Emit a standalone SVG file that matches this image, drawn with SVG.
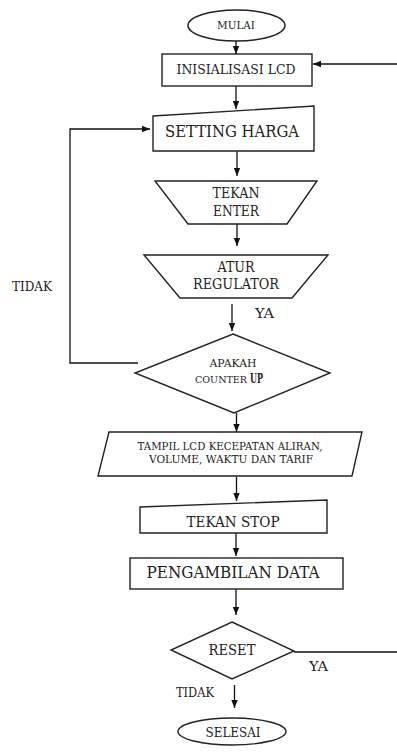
<svg xmlns="http://www.w3.org/2000/svg" width="397" height="754" viewBox="0 0 397 754">
<style>
.s{fill:#fff;stroke:#222;stroke-width:1.4}
.c{fill:none;stroke:#111;stroke-width:1.3}
.t{font-family:"DejaVu Serif","Liberation Serif",serif;fill:#222;text-anchor:middle}
.l{font-family:"DejaVu Serif","Liberation Serif",serif;fill:#222}
</style>
<defs>
<marker id="ah" markerUnits="userSpaceOnUse" markerWidth="8" markerHeight="8" viewBox="0 0 8 8" refX="8" refY="4" orient="auto">
<path d="M0,0.8 L8,4 L0,7.2 Z" fill="#111"/>
</marker>
</defs>
<rect width="397" height="754" fill="#fff"/>
<g id="connectors">
<line class="c" x1="236" y1="41" x2="236" y2="54" marker-end="url(#ah)"/>
<line class="c" x1="397" y1="64" x2="313" y2="64" marker-end="url(#ah)"/>
<line class="c" x1="236" y1="86" x2="236" y2="109" marker-end="url(#ah)"/>
<polyline class="c" points="138,363 70,363 70,129 150,129" marker-end="url(#ah)"/>
<line class="c" x1="237" y1="151" x2="237" y2="176" marker-end="url(#ah)"/>
<line class="c" x1="237" y1="224" x2="237" y2="246" marker-end="url(#ah)"/>
<line class="c" x1="232" y1="304" x2="232" y2="331" marker-end="url(#ah)"/>
<line class="c" x1="236.5" y1="413" x2="236.5" y2="432" marker-end="url(#ah)"/>
<line class="c" x1="236.5" y1="477" x2="236.5" y2="501" marker-end="url(#ah)"/>
<line class="c" x1="236" y1="533" x2="236" y2="556" marker-end="url(#ah)"/>
<line class="c" x1="236" y1="589" x2="236" y2="615" marker-end="url(#ah)"/>
<line class="c" x1="294" y1="652" x2="397" y2="652"/>
<line class="c" x1="234.5" y1="685" x2="234.5" y2="708" marker-end="url(#ah)"/>
<text class="l" x="255" y="318" font-size="13" textLength="19" lengthAdjust="spacingAndGlyphs">YA</text>
<text class="l" x="12" y="291" font-size="13" textLength="40" lengthAdjust="spacingAndGlyphs">TIDAK</text>
<text class="l" x="309" y="671" font-size="13" textLength="19" lengthAdjust="spacingAndGlyphs">YA</text>
<text class="l" x="176" y="697" font-size="13" textLength="38" lengthAdjust="spacingAndGlyphs">TIDAK</text>
</g>
<g id="mulai">
<ellipse class="s" cx="236.5" cy="25.5" rx="48.5" ry="15.5"/>
<text class="t" x="236" y="29" font-size="11" textLength="38" lengthAdjust="spacingAndGlyphs">MULAI</text>
</g>
<g id="inisialisasi">
<rect class="s" x="162" y="54" width="150" height="32"/>
<text class="t" x="236" y="74" font-size="13" textLength="119" lengthAdjust="spacingAndGlyphs">INISIALISASI LCD</text>
</g>
<g id="setting">
<polygon class="s" points="153,116 314,106 314,151 153,151"/>
<text class="t" x="232" y="137" font-size="17" textLength="134" lengthAdjust="spacingAndGlyphs">SETTING HARGA</text>
</g>
<g id="tekan-enter">
<polygon class="s" points="155,181 317,181 287,224 188,224"/>
<text class="t" x="236" y="198" font-size="14" textLength="47" lengthAdjust="spacingAndGlyphs">TEKAN</text>
<text class="t" x="236" y="216" font-size="14" textLength="46" lengthAdjust="spacingAndGlyphs">ENTER</text>
</g>
<g id="atur">
<polygon class="s" points="144,255 328,255 292,298 180,298"/>
<text class="t" x="236" y="272" font-size="14" textLength="37" lengthAdjust="spacingAndGlyphs">ATUR</text>
<text class="t" x="236" y="289" font-size="14" textLength="86" lengthAdjust="spacingAndGlyphs">REGULATOR</text>
</g>
<g id="apakah">
<polygon class="s" points="233,334 330,373 234,413 135,373"/>
<text class="t" x="233" y="367" font-size="11" textLength="47" lengthAdjust="spacingAndGlyphs">APAKAH</text>
<text class="l" x="195" y="383" font-size="10" textLength="52" lengthAdjust="spacingAndGlyphs">COUNTER</text>
<text class="l" x="250" y="383" font-size="12" font-weight="bold" textLength="13" lengthAdjust="spacingAndGlyphs">UP</text>
</g>
<g id="tampil">
<polygon class="s" points="109,432 362,432 352,476 98,476"/>
<text class="t" x="230" y="450" font-size="11" textLength="185" lengthAdjust="spacingAndGlyphs">TAMPIL LCD KECEPATAN ALIRAN,</text>
<text class="t" x="231" y="463" font-size="11" textLength="164" lengthAdjust="spacingAndGlyphs">VOLUME, WAKTU DAN TARIF</text>
</g>
<g id="tekan-stop">
<polygon class="s" points="140,507 327,500 327,533 140,533"/>
<text class="t" x="233" y="527" font-size="15" textLength="93" lengthAdjust="spacingAndGlyphs">TEKAN STOP</text>
</g>
<g id="pengambilan">
<rect class="s" x="130" y="558" width="213" height="31"/>
<text class="t" x="233" y="578" font-size="16" textLength="173" lengthAdjust="spacingAndGlyphs">PENGAMBILAN DATA</text>
</g>
<g id="reset">
<polygon class="s" points="232,622 294,651 232,679 171,650"/>
<text class="t" x="232" y="655" font-size="14" textLength="47" lengthAdjust="spacingAndGlyphs">RESET</text>
</g>
<g id="selesai">
<ellipse class="s" cx="232" cy="731.5" rx="54" ry="13.5"/>
<text class="t" x="233" y="737" font-size="13" textLength="55" lengthAdjust="spacingAndGlyphs">SELESAI</text>
</g>
</svg>
